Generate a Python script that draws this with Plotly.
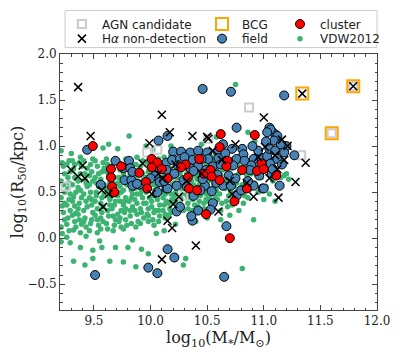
import plotly.graph_objects as go

# ---- data (log10 M*/Msun, log10 R50/kpc) ----
vdw_points = [
    (9.21, 0.62), (9.22, 0.35), (9.23, 0.78), (9.21, 0.12), (9.24, 0.50), (9.22, 0.05), (9.23, 0.28),
    (9.24, 0.70), (9.21, 0.44), (9.22, 0.82), (9.24, 0.20), (9.23, 0.58), (9.21, 0.95), (9.24, 0.38),
    (9.26, 0.15), (9.27, 0.66), (9.28, 0.42), (9.26, 0.80), (9.29, 0.30), (9.27, 0.54), (9.28, 0.08),
    (9.26, 0.36), (9.29, 0.72), (9.27, 0.22), (9.28, 0.60), (9.29, 0.48), (9.26, 0.01), (9.28, 0.84),
    (9.31, 0.40), (9.32, 0.75), (9.33, 0.18), (9.31, 0.58), (9.34, 0.27), (9.32, 0.09), (9.33, 0.66),
    (9.34, 0.50), (9.31, 0.84), (9.33, 0.35), (9.32, 0.45), (9.34, 0.12), (9.31, 0.25), (9.33, 0.80),
    (9.36, 0.55), (9.37, 0.20), (9.38, 0.70), (9.36, 0.32), (9.39, 0.44), (9.37, 0.82), (9.38, 0.06),
    (9.36, 0.62), (9.39, 0.15), (9.37, 0.38), (9.38, 0.52), (9.39, 0.78), (9.36, 0.26), (9.38, 0.88),
    (9.41, 0.30), (9.42, 0.64), (9.43, 0.12), (9.41, 0.48), (9.44, 0.76), (9.42, 0.22), (9.43, 0.40),
    (9.44, 0.56), (9.41, 0.84), (9.43, 0.02), (9.42, 0.70), (9.44, 0.34), (9.41, 0.18), (9.43, 0.60),
    (9.46, 0.44), (9.47, 0.16), (9.48, 0.72), (9.46, 0.58), (9.49, 0.28), (9.47, 0.80), (9.48, 0.36),
    (9.46, 0.08), (9.49, 0.62), (9.47, 0.50), (9.48, 0.20), (9.49, 0.86), (9.46, 0.68), (9.48, 0.42),
    (9.51, 0.25), (9.52, 0.60), (9.53, 0.78), (9.51, 0.40), (9.54, 0.14), (9.52, 0.50), (9.53, 0.32),
    (9.54, 0.70), (9.51, 0.84), (9.53, 0.06), (9.52, 0.46), (9.54, 0.56), (9.51, 0.66), (9.53, 0.20),
    (9.56, 0.38), (9.57, 0.72), (9.58, 0.18), (9.56, 0.64), (9.59, 0.48), (9.57, 0.28), (9.58, 0.82),
    (9.56, 0.10), (9.59, 0.58), (9.57, 0.44), (9.58, 0.34), (9.59, 0.76), (9.56, 0.22), (9.58, 0.98),
    (9.61, 0.54), (9.62, 0.30), (9.63, 0.68), (9.61, 0.16), (9.64, 0.42), (9.62, 0.80), (9.63, 0.24),
    (9.64, 0.60), (9.61, 0.72), (9.63, 0.46), (9.62, 0.10), (9.64, 0.36), (9.61, 0.86), (9.63, 0.52),
    (9.66, 0.32), (9.67, 0.58), (9.68, 0.14), (9.66, 0.78), (9.69, 0.40), (9.67, 0.24), (9.68, 0.66),
    (9.69, 0.50), (9.66, 0.46), (9.68, 0.84), (9.67, 0.08), (9.69, 0.20), (9.66, 0.62), (9.68, 0.36),
    (9.71, 0.46), (9.72, 0.18), (9.73, 0.74), (9.71, 0.60), (9.74, 0.30), (9.72, 0.82), (9.73, 0.40),
    (9.74, 0.12), (9.71, 0.26), (9.73, 0.56), (9.72, 0.66), (9.74, 0.50), (9.71, 0.97), (9.73, 0.22),
    (9.76, 0.36), (9.77, 0.64), (9.78, 0.20), (9.76, 0.52), (9.79, 0.78), (9.77, 0.28), (9.78, 0.44),
    (9.79, 0.14), (9.76, 0.70), (9.78, 0.86), (9.77, 0.40), (9.79, 0.58), (9.76, 0.10), (9.78, 0.32),
    (9.81, 0.58), (9.82, 0.24), (9.83, 0.76), (9.81, 0.40), (9.84, 0.48), (9.82, 0.68), (9.83, 0.16),
    (9.84, 0.34), (9.81, 0.84), (9.83, 0.52), (9.82, 0.30), (9.84, 0.62), (9.81, 1.11), (9.83, 0.44),
    (9.86, 0.42), (9.87, 0.70), (9.88, 0.26), (9.86, 0.54), (9.89, 0.18), (9.87, 0.80), (9.88, 0.38),
    (9.89, 0.62), (9.86, 0.30), (9.88, 0.48), (9.87, 0.12), (9.89, 0.74), (9.86, 0.66), (9.88, 0.88),
    (9.91, 0.32), (9.92, 0.60), (9.93, 0.44), (9.91, 0.78), (9.94, 0.22), (9.92, 0.52), (9.93, 0.70),
    (9.94, 0.38), (9.91, 0.16), (9.93, 0.84), (9.92, 0.28), (9.94, 0.64), (9.91, 0.48), (9.93, 0.56),
    (9.96, 0.50), (9.97, 0.26), (9.98, 0.72), (9.96, 0.38), (9.99, 0.60), (9.97, 0.82), (9.98, 0.18),
    (9.99, 0.44), (9.96, 0.66), (9.98, 0.32), (9.97, 0.56), (9.99, 0.76), (9.96, 1.00), (9.98, 0.24),
    (10.01, 0.40), (10.02, 0.66), (10.03, 0.28), (10.01, 0.78), (10.04, 0.52), (10.02, 0.20), (10.03, 0.58),
    (10.04, 0.84), (10.01, 0.34), (10.03, 0.72), (10.02, 0.46), (10.04, 0.30), (10.01, 0.62), (10.03, 0.14),
    (10.06, 0.56), (10.07, 0.30), (10.08, 0.76), (10.06, 0.42), (10.09, 0.64), (10.07, 0.86), (10.08, 0.24),
    (10.09, 0.50), (10.06, 0.70), (10.08, 0.36), (10.07, 0.18), (10.09, 0.80), (10.06, 0.46), (10.08, 0.60),
    (10.11, 0.44), (10.12, 0.68), (10.13, 0.26), (10.11, 0.80), (10.14, 0.54), (10.12, 0.36), (10.13, 0.62),
    (10.14, 0.74), (10.11, 0.30), (10.13, 0.48), (10.12, 0.88), (10.14, 0.40), (10.11, 0.58), (10.13, 0.22),
    (10.16, 0.52), (10.17, 0.32), (10.18, 0.72), (10.16, 0.64), (10.19, 0.42), (10.17, 0.84), (10.18, 0.28),
    (10.19, 0.58), (10.16, 0.38), (10.18, 0.48), (10.17, 0.76), (10.19, 0.66), (10.16, 0.24), (10.18, 0.90),
    (10.21, 0.46), (10.22, 0.70), (10.23, 0.34), (10.21, 0.60), (10.24, 0.80), (10.22, 0.40), (10.23, 0.54),
    (10.24, 0.28), (10.21, 0.86), (10.23, 0.66), (10.22, 0.50), (10.24, 0.74),
    (10.26, 0.58), (10.27, 0.36), (10.28, 0.76), (10.26, 0.46), (10.29, 0.64), (10.27, 0.84), (10.28, 0.52),
    (10.29, 0.30), (10.26, 0.70), (10.28, 0.95), (10.27, 0.42), (10.29, 0.56),
    (10.31, 0.48), (10.32, 0.70), (10.33, 0.38), (10.31, 0.60), (10.34, 0.82), (10.32, 0.54), (10.33, 0.44),
    (10.34, 0.66), (10.31, 0.76), (10.33, 0.32), (10.32, 0.88), (10.34, 0.50),
    (10.36, 0.62), (10.37, 0.42), (10.38, 0.74), (10.36, 0.52), (10.39, 0.36), (10.37, 0.80), (10.38, 0.58),
    (10.39, 0.68), (10.36, 0.46), (10.38, 0.90), (10.37, 0.30), (10.39, 0.55),
    (10.41, 0.50), (10.42, 0.72), (10.43, 0.40), (10.41, 0.64), (10.44, 0.84), (10.42, 0.34), (10.43, 0.58),
    (10.44, 0.46), (10.41, 0.78), (10.43, 0.68), (10.42, 0.55), (10.44, 0.62),
    (10.46, 0.56), (10.47, 0.38), (10.48, 0.76), (10.46, 0.66), (10.49, 0.48), (10.47, 0.86), (10.48, 0.60),
    (10.49, 0.42), (10.46, 0.72), (10.48, 0.52), (10.47, 0.32), (10.49, 0.80),
    (10.51, 0.62), (10.52, 0.44), (10.53, 0.78), (10.51, 0.54), (10.54, 0.36), (10.52, 0.70), (10.53, 0.50),
    (10.54, 0.88), (10.51, 0.40), (10.53, 0.66),
    (10.56, 0.58), (10.57, 0.46), (10.58, 0.74), (10.56, 0.36), (10.59, 0.64), (10.57, 0.84), (10.58, 0.52),
    (10.59, 0.42), (10.56, 0.70), (10.58, 1.10),
    (10.61, 0.48), (10.62, 0.68), (10.63, 0.38), (10.61, 0.80), (10.64, 0.56), (10.62, 0.30), (10.63, 0.62),
    (10.64, 0.74), (10.66, 0.54), (10.67, 0.40), (10.68, 0.70), (10.66, 0.82), (10.69, 0.46), (10.67, 0.62),
    (10.68, 0.34), (10.69, 0.58), (10.71, 0.50), (10.72, 0.66), (10.73, 0.42), (10.71, 0.76), (10.74, 0.56),
    (10.72, 0.36), (10.73, 0.86), (10.76, 0.60), (10.77, 0.48), (10.78, 0.70), (10.76, 0.40), (10.79, 0.54),
    (10.77, 0.80), (10.78, 0.30), (10.81, 0.58), (10.83, 0.46), (10.85, 0.68), (10.82, 0.38), (10.87, 0.52),
    (10.84, 0.76), (10.88, 0.62), (10.86, 0.44), (10.89, 0.70),
    (10.92, 0.60), (10.95, 0.50), (10.98, 0.66), (11.02, 0.56), (11.05, 0.48), (11.08, 0.62), (11.12, 0.58),
    (11.15, 0.66), (11.18, 0.68), (11.20, 0.70), (11.22, 0.64), (11.10, 0.40), (11.00, 0.42), (10.93, 0.78),
    (11.06, 0.74),
    (9.21, -0.04), (9.38, -0.10), (9.49, -0.13), (9.57, -0.10), (9.69, -0.10), (9.80, -0.10), (9.92, -0.12),
    (9.98, -0.17), (9.32, -0.25), (9.42, -0.29), (9.49, -0.22), (9.64, -0.25), (9.76, -0.26), (9.87, -0.31),
    (10.31, -0.22), (10.29, -0.29), (10.81, -0.33), (10.91, 0.20), (10.75, 1.67), (10.86, 1.15),
    (10.92, 1.05), (9.29, -0.05), (9.55, -0.03), (9.84, -0.02), (10.05, 0.05), (10.12, 0.08), (10.22, 0.15),
    (10.40, 0.18), (10.50, 0.22), (10.62, 0.20), (10.70, 0.25), (9.63, 1.02), (10.02, 0.96), (10.18, 1.00),
    (10.45, 1.02), (9.45, 0.95), (9.30, 0.92),
]

field_points = [
    (9.44, 0.96), (9.56, 0.58), (9.51, -0.40), (10.46, 1.62), (10.71, 1.59), (11.18, 1.55), (10.76, 1.20),
    (11.05, 1.20), (11.07, 1.16), (11.10, 1.13), (11.12, 1.11), (11.20, 1.00), (11.27, 0.90), (11.14, 0.57),
    (10.99, 0.54), (10.67, 0.13), (10.65, -0.42), (10.21, -0.21), (10.15, -0.12), (9.98, -0.32),
    (10.06, -0.38), (10.42, 0.30), (10.37, 0.19), (10.36, 0.24), (10.23, 0.29), (10.26, 0.34), (10.55, 0.38),
    (10.53, 0.31), (10.07, 1.06), (10.15, 1.11), (9.69, 0.84), (9.81, 0.84), (9.76, 0.76), (9.82, 0.76),
    (9.77, 0.63), (9.83, 0.63), (9.84, 0.72), (9.90, 0.58), (9.84, 0.57), (10.06, 0.74), (10.14, 0.82),
    (10.04, 0.68), (10.00, 0.65), (10.08, 0.61), (10.06, 0.50), (10.14, 0.54), (9.88, 0.59),
    (10.72, 0.97), (10.81, 0.97), (10.82, 0.91), (11.06, 1.18), (10.20, 0.94), (10.27, 0.94), (10.35, 0.93),
    (10.42, 0.95), (10.50, 0.93), (10.59, 0.94), (10.19, 0.85), (10.26, 0.86), (10.37, 0.85), (10.51, 0.86),
    (10.60, 0.87), (10.76, 0.86), (10.91, 0.86), (10.98, 0.87), (11.03, 0.89), (10.24, 0.79), (10.35, 0.76),
    (10.42, 0.78), (10.55, 0.78), (10.73, 0.79), (10.83, 0.84), (10.89, 0.79), (11.06, 0.81), (10.14, 0.74),
    (10.21, 0.70), (10.38, 0.73), (10.29, 0.63), (10.59, 0.69), (10.69, 0.68), (10.88, 0.74), (11.07, 0.70),
    (10.75, 0.65), (10.15, 0.54), (10.23, 0.57), (10.48, 0.57), (10.54, 0.51), (10.64, 0.57), (10.71, 0.57),
    (10.91, 0.57), (11.00, 0.54), (10.76, 0.46), (10.38, 0.46),
    (11.03, 1.15), (11.09, 1.06), (11.15, 1.02), (11.05, 0.97), (11.10, 0.95), (11.18, 0.93), (11.02, 1.05),
    (11.12, 0.86), (11.16, 0.80), (11.08, 0.75), (10.95, 0.95), (10.90, 1.00), (10.86, 0.62), (10.80, 0.52),
    (10.62, 0.80), (10.46, 0.64), (10.44, 0.52), (10.32, 0.56), (10.30, 0.88), (10.66, 0.92), (10.96, 0.68),
    (10.64, 1.02), (10.12, 0.62), (10.49, 0.74), (10.58, 0.60), (10.45, 0.86),
]

cluster_points = [
    (9.49, 1.00), (9.65, 0.75), (9.65, 0.66), (9.66, 0.56), (9.68, 0.50), (9.74, 0.78), (9.90, 0.71),
    (10.01, 0.86), (10.06, 0.82), (10.01, 0.77), (10.10, 0.75), (9.96, 0.61), (9.97, 0.54), (10.15, 0.65),
    (10.62, 1.13), (10.92, 1.12), (10.61, 0.99), (10.43, 0.86), (10.68, 0.84), (10.31, 0.80), (10.27, 0.77),
    (10.67, 0.78), (10.98, 0.81), (10.33, 0.66), (10.47, 0.70), (10.53, 0.74), (10.54, 0.67), (10.61, 0.63),
    (10.81, 0.74), (10.94, 0.73), (11.00, 0.75), (10.34, 0.54), (10.41, 0.52), (10.85, 0.54), (11.11, 0.68),
    (10.74, 0.40), (10.70, 0.00), (10.49, 0.26),
]

nondet_points = [
    (9.36, 1.64), (10.10, 1.34), (11.00, 1.31), (11.34, 1.57), (11.79, 1.65), (10.50, 1.10), (11.16, 1.07),
    (11.21, 1.00), (11.37, 0.82), (11.28, 0.61), (11.13, 0.44), (10.91, 0.45), (10.60, 0.29), (10.19, 0.11),
    (10.15, 0.19), (10.40, -0.08), (10.10, -0.23), (9.58, 0.34), (9.47, 1.11), (9.99, 1.03), (9.30, 0.74),
    (9.40, 0.79), (9.36, 0.67), (9.42, 0.65), (9.57, 0.52), (9.63, 0.48), (9.93, 0.81), (10.01, 0.48),
    (10.11, 0.65), (10.37, 1.11), (10.51, 1.08), (10.17, 1.15), (10.75, 1.02), (11.01, 0.99), (10.20, 0.37),
    (10.22, 0.80), (10.32, 0.62), (10.45, 0.70), (10.63, 0.85), (10.70, 0.62), (10.85, 0.60), (11.05, 0.65),
    (11.12, 0.75), (11.18, 0.85), (10.25, 0.45), (10.07, 0.70), (10.72, 0.48), (11.10, 0.90), (10.95, 0.88),
    (10.55, 0.95),
]

agn_points = [
    (10.87, 1.42), (11.33, 0.90), (9.97, 0.93), (10.06, 0.96), (9.25, 0.56), (10.51, 1.08), (10.29, 0.46),
    (11.60, 1.14), (11.79, 1.65),
]

bcg_points = [(11.34, 1.57), (11.79, 1.65), (11.60, 1.14), (11.14, 0.98)]

x_ticks = [9.5, 10.0, 10.5, 11.0, 11.5, 12.0]
y_ticks = [-0.5, 0.0, 0.5, 1.0, 1.5, 2.0]


def xs(points):
    return [p[0] for p in points]


def ys(points):
    return [p[1] for p in points]


fig = go.Figure()

# drawing order follows the reference: squares sit under the circles, crosses on top.
# each legend entry gets its own legend box so the 3x2 grid can be placed freely
fig.add_trace(go.Scatter(
    x=xs(vdw_points), y=ys(vdw_points), mode="markers", name="VDW2012", showlegend=True,
    marker=dict(color="#3cb371", size=5.5, line=dict(width=0)), legend="legend6",
))
fig.add_trace(go.Scatter(
    x=xs(agn_points), y=ys(agn_points), mode="markers", name="AGN candidate", showlegend=True,
    marker=dict(symbol="square-open", color="#cccccc", size=8, line=dict(width=2)), legend="legend",
))
fig.add_trace(go.Scatter(
    x=xs(bcg_points), y=ys(bcg_points), mode="markers", name="BCG", showlegend=True,
    marker=dict(symbol="square-open", color="#ffa500", size=12, line=dict(width=2)), legend="legend2",
))
fig.add_trace(go.Scatter(
    x=xs(field_points), y=ys(field_points), mode="markers", name="field", showlegend=True,
    marker=dict(color="#4682b4", size=9, line=dict(color="black", width=1)), legend="legend5",
))
fig.add_trace(go.Scatter(
    x=xs(cluster_points), y=ys(cluster_points), mode="markers", name="cluster", showlegend=True,
    marker=dict(color="#ff0000", size=9, line=dict(color="black", width=1)), legend="legend3",
))
fig.add_trace(go.Scatter(
    x=xs(nondet_points), y=ys(nondet_points), mode="markers", name="H<i>α</i> non-detection",
    showlegend=True,
    marker=dict(symbol="x-thin", color="black", size=8, line=dict(color="black", width=1.5)),
    legend="legend4",
))

legend_style = dict(
    orientation="v", yanchor="middle", xanchor="left",
    bgcolor="rgba(0,0,0,0)", borderwidth=0,
    font=dict(family="DejaVu Sans", size=12, color="#222"),
)
row1, row2 = 1.117, 1.060
col1, col2, col3 = 0.006, 0.448, 0.694

axis_style = dict(
    showgrid=False, zeroline=False, showline=True, linecolor="#444", linewidth=1,
    mirror="allticks", ticks="inside", ticklen=5, tickcolor="#444",
    tickfont=dict(family="DejaVu Serif", size=12, color="#222"),
    minor=dict(ticks="inside", ticklen=2.5, dtick=0.1, tickcolor="#444", showgrid=False),
)

# the page body adds an 8px offset, so the figure is 8px smaller than the window
fig.update_layout(
    width=393, height=349,
    margin=dict(l=52, r=24, t=46, b=47, autoexpand=False),
    plot_bgcolor="white", paper_bgcolor="white",
    showlegend=True,
    legend=dict(legend_style, x=col1, y=row1),
    legend2=dict(legend_style, x=col2, y=row1),
    legend3=dict(legend_style, x=col3, y=row1),
    legend4=dict(legend_style, x=col1, y=row2),
    legend5=dict(legend_style, x=col2, y=row2),
    legend6=dict(legend_style, x=col3, y=row2),
    xaxis=dict(
        axis_style, range=[9.2, 12.0], tickvals=x_ticks, tickformat=".1f",
        title=dict(text="log<sub>10</sub>(M<sub>*</sub>/M<sub>⊙</sub>)", standoff=4,
                   font=dict(family="DejaVu Serif", size=16, color="#222")),
    ),
    yaxis=dict(
        axis_style, range=[-0.78, 2.0], tickvals=y_ticks, tickformat=".1f",
        title=dict(text="log<sub>10</sub>(R<sub>50</sub>/kpc)", standoff=4,
                   font=dict(family="DejaVu Serif", size=16, color="#222")),
    ),
    shapes=[dict(type="rect", xref="paper", yref="paper", x0=0.016, x1=1.0, y0=1.025, y1=1.17,
                 line=dict(color="#cccccc", width=1), fillcolor="rgba(0,0,0,0)")],
)

fig.write_html("out.html")
